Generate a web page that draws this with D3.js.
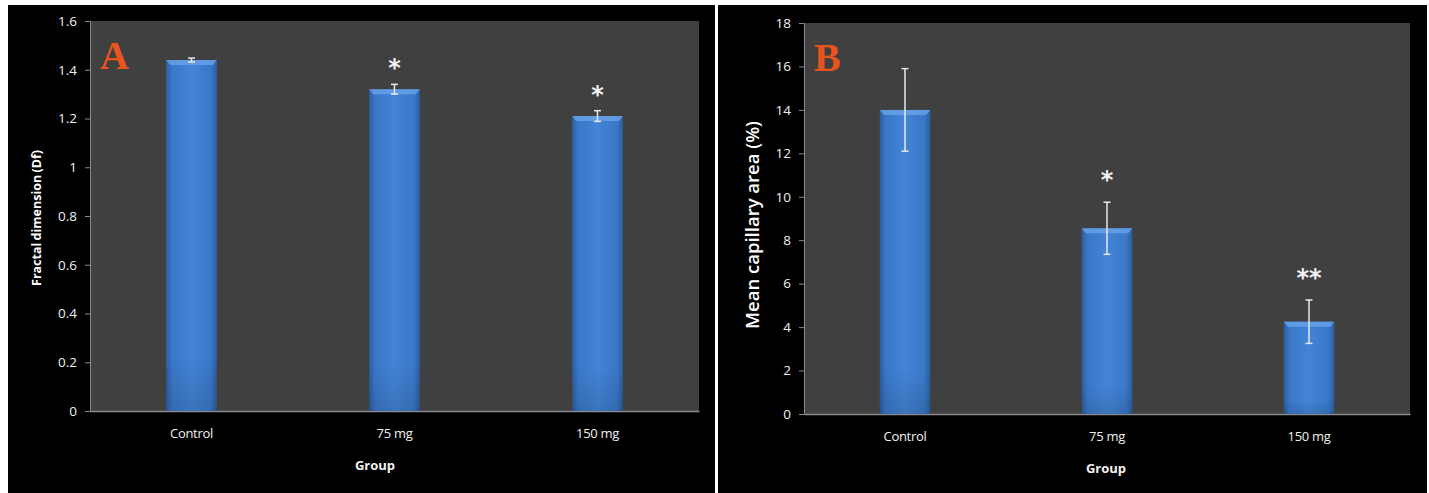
<!DOCTYPE html>
<html><head><meta charset="utf-8">
<script src="https://cdn.jsdelivr.net/npm/d3@7"></script>
<style>html,body{margin:0;padding:0;background:#fff;}svg{display:block;}</style>
</head><body>
<svg id="c" width="1429" height="493"></svg>
<script>
const categories = ["Control", "75 mg", "150 mg"];
const dfValues = [1.44, 1.32, 1.21];
const dfErrors = [0.008, 0.02, 0.022];
const dfSig = ["", "*", "*"];
const dfTicks = [0, 0.2, 0.4, 0.6, 0.8, 1, 1.2, 1.4, 1.6];
const capValues = [14.0, 8.55, 4.25];
const capErrors = [1.9, 1.2, 1.0];
const capSig = ["", "*", "**"];
const capTicks = [0, 2, 4, 6, 8, 10, 12, 14, 16, 18];

const svg = d3.select("#c");
const defs = svg.append("defs");
const g1 = defs.append("linearGradient").attr("id","barg").attr("x1","0").attr("x2","1").attr("y1","0").attr("y2","0");
g1.append("stop").attr("offset","0").attr("stop-color","#2b5e9e");
g1.append("stop").attr("offset","0.12").attr("stop-color","#3a78c8");
g1.append("stop").attr("offset","0.5").attr("stop-color","#4384d6");
g1.append("stop").attr("offset","0.88").attr("stop-color","#3a78c8");
g1.append("stop").attr("offset","1").attr("stop-color","#2b5e9e");
const g2 = defs.append("linearGradient").attr("id","barv").attr("x1","0").attr("x2","0").attr("y1","0").attr("y2","1");
g2.append("stop").attr("offset","0").attr("stop-color","#ffffff").attr("stop-opacity",0.0);
g2.append("stop").attr("offset","0.85").attr("stop-color","#000000").attr("stop-opacity",0.0);
g2.append("stop").attr("offset","1").attr("stop-color","#000000").attr("stop-opacity",0.12);

function panel(o) {
  const g = svg.append("g");
  g.append("rect").attr("x", o.px).attr("y", o.py).attr("width", o.pw).attr("height", o.ph).attr("fill", "#000");
  g.append("rect").attr("x", o.left).attr("y", o.top).attr("width", o.right - o.left).attr("height", o.bottom - o.top).attr("fill", "#404040");
  const x = d3.scaleBand().domain(categories).range([o.left, o.right]).paddingInner(0.75).paddingOuter(0.375);
  const y = d3.scaleLinear().domain([o.ticks[0], o.ticks[o.ticks.length-1]]).range([o.bottom, o.top]);

  const yAxis = g.append("g").attr("transform", `translate(${o.left},0)`)
    .call(d3.axisLeft(y).tickValues(o.ticks).tickSize(5).tickPadding(8).tickFormat(d3.format("")));
  yAxis.select(".domain").attr("stroke", "#8a8a8a");
  yAxis.selectAll(".tick line").attr("stroke", "#8a8a8a");
  yAxis.selectAll("text").attr("fill", "#f0f0f0").attr("font-family", "Open Sans, sans-serif").attr("font-size", "13.5px");

  const xAxis = g.append("g").attr("transform", `translate(0,${o.bottom})`)
    .call(d3.axisBottom(x).tickSize(0).tickPadding(18));
  xAxis.select(".domain").attr("stroke", "#8a8a8a").attr("stroke-width", 1.5);
  xAxis.selectAll("text").attr("fill", "#f0f0f0").attr("font-family", "Open Sans, sans-serif").attr("font-size", "13px").attr("letter-spacing", "-0.3px");

  const bars = g.append("g");
  o.values.forEach((v, i) => {
    const bx = x(categories[i]), bw = x.bandwidth(), by = y(v), bh = y(0) - y(v);
    bars.append("rect").attr("x", bx).attr("y", by).attr("width", bw).attr("height", bh).attr("fill", "url(#barg)");
    bars.append("rect").attr("x", bx).attr("y", by).attr("width", bw).attr("height", bh).attr("fill", "url(#barv)");
    bars.append("path").attr("d", `M${bx},${by} L${bx+bw},${by} L${bx+bw-4},${by+5} L${bx+4},${by+5} Z`).attr("fill", "#6aa3ea").attr("opacity", 0.8);
    const cx = bx + bw / 2, e = o.errors[i];
    const eg = bars.append("g").attr("stroke", "#e8e8e8").attr("stroke-width", 1.5);
    eg.append("line").attr("x1", cx).attr("x2", cx).attr("y1", y(v + e)).attr("y2", y(v - e));
    eg.append("line").attr("x1", cx - 3.5).attr("x2", cx + 3.5).attr("y1", y(v + e)).attr("y2", y(v + e));
    eg.append("line").attr("x1", cx - 3.5).attr("x2", cx + 3.5).attr("y1", y(v - e)).attr("y2", y(v - e));
    if (o.sig[i]) {
      g.append("text").attr("x", cx).attr("y", y(v + e) - o.sigGap).attr("text-anchor", "middle")
        .attr("fill", "#f2f2f2").attr("font-family", "DejaVu Sans, sans-serif").attr("font-size", "24px").attr("font-weight", "bold")
        .attr("dy", "0.75em").text(o.sig[i]);
    }
  });

  g.append("text").attr("x", o.left + 10).attr("y", o.top + 48).attr("fill", "#e8541c")
    .attr("font-family", "Liberation Serif, serif").attr("font-weight", "bold").attr("font-size", "40px").text(o.letter);

  g.append("text").attr("transform", `translate(${o.ylx},${o.yly}) rotate(-90)`).attr("text-anchor", "middle")
    .attr("fill", "#fff").attr("font-family", "Open Sans, sans-serif").attr("font-weight", o.ylw).attr("font-size", o.yls)
    .attr("word-spacing", o.yws).attr("dy", "0.35em").text(o.ylabel);

  g.append("text").attr("x", o.gx).attr("y", o.bottom + 59).attr("text-anchor", "middle")
    .attr("fill", "#f2f2f2").attr("font-family", "Open Sans, sans-serif").attr("font-weight", "bold").attr("font-size", "13px").text("Group");
}

panel({px: 8, py: 5, pw: 707, ph: 488, left: 90, right: 699, top: 21, bottom: 411,
  ticks: dfTicks, values: dfValues, errors: dfErrors, sig: dfSig, sigGap: 26, letter: "A",
  ylabel: "Fractal dimension (Df)", ylx: 37, yly: 218, ylw: "bold", yls: "12.5px", yws: "-1px", gx: 375});
panel({px: 718, py: 5, pw: 709, ph: 488, left: 804, right: 1410, top: 23, bottom: 414,
  ticks: capTicks, values: capValues, errors: capErrors, sig: capSig, sigGap: 32, letter: "B",
  ylabel: "Mean capillary area (%)", ylx: 753, yly: 225, ylw: "600", yls: "18.5px", yws: "0px", gx: 1106});
</script>
</body></html>
